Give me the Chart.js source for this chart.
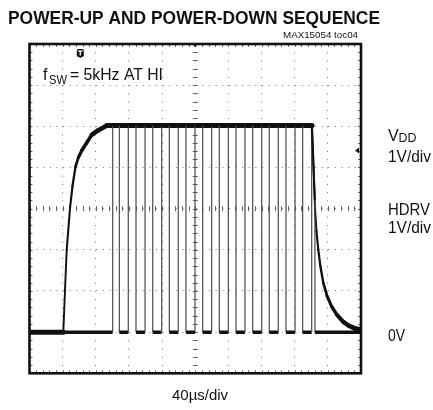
<!DOCTYPE html>
<html>
<head>
<meta charset="utf-8">
<script src="https://cdn.jsdelivr.net/npm/chart.js@4.4.0/dist/chart.umd.min.js"></script>
<style>
html, body { margin: 0; padding: 0; background: #fff; }
#wrap { width: 433px; height: 410px; }
</style>
</head>
<body>
<div id="wrap"><canvas id="scope-chart" width="433" height="410"></canvas></div>
<script>
// time in µs (40µs/div, 10 div), voltage in V (1V/div, 0V one div above the bottom)
var timeRange = [0, 400];
var voltRange = [-1, 7];
var timeDiv = 40;
var voltDiv = 1;

// VDD trace
var vddTime  = [0, 40.8, 42.8, 44.9, 48.9, 51.9, 55.5, 59.1, 63.3, 69.0, 75.4, 82.6, 93.5, 340.9, 342.3, 344.5, 346.3, 348.5, 351.0, 354.6, 359.0, 364.7, 371.0, 378.6, 385.0, 392.7, 400];
var vddVolts = [0, 0, 1.0, 2.0, 3.02, 3.55, 4.02, 4.25, 4.42, 4.6, 4.8, 4.9, 5.02, 5.02, 4.3, 3.0, 2.45, 2.0, 1.6, 1.19, 0.88, 0.62, 0.42, 0.25, 0.16, 0.09, 0.06];

// HDRV pulse edges
var hdrvRise = [100.4, 119.2, 139.4, 159.5, 179.5, 199.7, 219.8, 239.9, 260.0, 280.2, 300.2, 320.4, 340.5];
var hdrvFall = [108.4, 128.5, 148.7, 168.7, 188.8, 209.0, 229.0, 249.2, 269.3, 289.3, 309.5, 329.6, 344.4];
var hdrvTop  = [5.02, 5.02, 5.02, 5.02, 5.02, 5.02, 5.02, 5.02, 5.02, 5.02, 5.02, 5.02, 3.2];

var triggerTime = 61.3;
var triggerLevel = 4.41;

var vddPoints = vddTime.map((t, i) => ({x: t, y: vddVolts[i]}));

var hdrvPoints = [{x: timeRange[0], y: 0}];
hdrvRise.forEach((t, i) => {
    hdrvPoints.push({x: t, y: 0});
    hdrvPoints.push({x: t, y: 5.02});
    hdrvPoints.push({x: hdrvFall[i], y: hdrvTop[i]});
    hdrvPoints.push({x: hdrvFall[i], y: 0});
});
hdrvPoints.push({x: timeRange[1], y: 0});

function drawFit(ctx, text, x, y, font, width) {
    ctx.save();
    ctx.font = font;
    var s = width ? width / ctx.measureText(text).width : 1;
    ctx.translate(x, y);
    ctx.scale(s, 1);
    ctx.textAlign = 'left';
    ctx.textBaseline = 'alphabetic';
    ctx.fillStyle = '#111';
    ctx.fillText(text, 0, 0);
    ctx.restore();
}

var graticule = {
    id: 'graticule',
    beforeDatasetsDraw(chart) {
        var ctx = chart.ctx, a = chart.chartArea;
        var xs = chart.scales.x, ys = chart.scales.y;
        var cy = ys.getPixelForValue((voltRange[0] + voltRange[1]) / 2);
        var cx = xs.getPixelForValue((timeRange[0] + timeRange[1]) / 2);
        ctx.save();
        ctx.strokeStyle = '#666';
        ctx.lineWidth = 1;
        ctx.beginPath();
        for (var t = timeRange[0]; t <= timeRange[1]; t += timeDiv / 5) {
            var px = Math.round(xs.getPixelForValue(t)) + 0.5;
            ctx.moveTo(px, cy - 2.5); ctx.lineTo(px, cy + 2.5);
            ctx.moveTo(px, a.top); ctx.lineTo(px, a.top + 3);
            ctx.moveTo(px, a.bottom); ctx.lineTo(px, a.bottom - 3);
        }
        for (var v = voltRange[0]; v <= voltRange[1] + 0.001; v += voltDiv / 5) {
            var py = Math.round(ys.getPixelForValue(v)) + 0.5;
            ctx.moveTo(cx - 2.5, py); ctx.lineTo(cx + 2.5, py);
            ctx.moveTo(a.left, py); ctx.lineTo(a.left + 3, py);
            ctx.moveTo(a.right, py); ctx.lineTo(a.right - 3, py);
        }
        ctx.stroke();
        ctx.restore();
    },
    afterDraw(chart) {
        var ctx = chart.ctx, a = chart.chartArea;
        var xs = chart.scales.x, ys = chart.scales.y;
        ctx.save();
        ctx.strokeStyle = '#111';
        ctx.lineWidth = 2.6;
        ctx.strokeRect(a.left, a.top, a.right - a.left, a.bottom - a.top);

        // trigger position marker
        var tx = xs.getPixelForValue(triggerTime);
        ctx.fillStyle = '#111';
        ctx.beginPath();
        ctx.roundRect(tx - 3.5, a.top + 5, 7, 8, 1.8);
        ctx.fill();
        ctx.fillRect(tx - 0.7, a.top + 12.5, 1.4, 1.5);
        ctx.fillStyle = '#fff';
        ctx.fillRect(tx - 2.2, a.top + 6.5, 4.4, 1.3);
        ctx.fillRect(tx - 0.65, a.top + 6.5, 1.3, 5);

        // trigger level marker
        var ty = ys.getPixelForValue(triggerLevel);
        ctx.fillStyle = '#111';
        ctx.beginPath();
        ctx.moveTo(a.right - 6, ty);
        ctx.lineTo(a.right - 2, ty - 3);
        ctx.lineTo(a.right - 2, ty + 3);
        ctx.closePath();
        ctx.fill();

        // centre mark on top edge
        var mx = xs.getPixelForValue((timeRange[0] + timeRange[1]) / 2);
        ctx.beginPath();
        ctx.moveTo(mx - 2.5, a.top);
        ctx.lineTo(mx + 2.5, a.top);
        ctx.lineTo(mx, a.top + 3.5);
        ctx.closePath();
        ctx.fill();
        ctx.restore();

        var F = '"Liberation Sans", Arial, sans-serif';
        drawFit(ctx, 'POWER-UP AND POWER-DOWN SEQUENCE', 8, 24, 'bold 19px ' + F, 372);
        drawFit(ctx, 'MAX15054 toc04', 283, 37.5, '9.5px ' + F, 75);
        drawFit(ctx, 'f', 43, 80, '16px ' + F);
        drawFit(ctx, 'SW', 49, 83.5, '12px ' + F, 18);
        drawFit(ctx, '= 5kHz AT HI', 70, 80, '16px ' + F, 93);
        drawFit(ctx, 'V', 388, 140.5, '16px ' + F);
        drawFit(ctx, 'DD', 398.5, 142, '12.5px ' + F, 18);
        drawFit(ctx, '1V/div', 388, 162, '16px ' + F, 43);
        drawFit(ctx, 'HDRV', 388, 215, '16px ' + F, 42);
        drawFit(ctx, '1V/div', 388, 232.5, '16px ' + F, 43);
        drawFit(ctx, '0V', 388, 340.7, '16px ' + F, 17);
        drawFit(ctx, '40µs/div', 172, 400, '15px ' + F, 56);
    }
};

// trace looks thinner where it moves fast
function traceWidth(c, thin, thick) {
    var dx = c.p1.x - c.p0.x, dy = c.p1.y - c.p0.y;
    var len = Math.sqrt(dx * dx + dy * dy) || 1;
    return thin + (thick - thin) * Math.abs(dx) / len;
}

var ctx = document.getElementById('scope-chart').getContext('2d');

var scopeChart = new Chart(ctx, {
    type: 'scatter',
    data: {
        datasets: [{
            label: 'HDRV',
            data: hdrvPoints,
            showLine: true,
            pointRadius: 0,
            borderColor: '#111',
            borderWidth: 3.5,
            segment: {
                borderWidth: c => c.p0.parsed.x === c.p1.parsed.x ? 1.2 : (c.p0.parsed.y === c.p1.parsed.y ? 3.5 : 2),
                borderColor: c => c.p0.parsed.x === c.p1.parsed.x ? '#4a4a4a' : '#111'
            }
        }, {
            label: 'VDD',
            data: vddPoints,
            showLine: true,
            pointRadius: 0,
            borderColor: '#111',
            borderWidth: 5,
            borderCapStyle: 'round',
            borderJoinStyle: 'round',
            segment: {
                borderWidth: c => traceWidth(c, 1.8, 5)
            }
        }]
    },
    options: {
        responsive: false,
        animation: false,
        events: [],
        layout: {
            padding: {left: 29.5, top: 44, right: 72, bottom: 36.7}
        },
        plugins: {
            legend: {display: false},
            tooltip: {enabled: false}
        },
        scales: {
            x: {
                type: 'linear',
                min: timeRange[0],
                max: timeRange[1],
                ticks: {display: false, stepSize: timeDiv},
                grid: {color: '#777', lineWidth: 1, drawTicks: false},
                border: {display: false, dash: [1, 7.23]}
            },
            y: {
                type: 'linear',
                min: voltRange[0],
                max: voltRange[1],
                ticks: {display: false, stepSize: voltDiv},
                grid: {color: '#777', lineWidth: 1, drawTicks: false},
                border: {display: false, dash: [1, 5.63]}
            }
        }
    },
    plugins: [graticule]
});
</script>
</body>
</html>
